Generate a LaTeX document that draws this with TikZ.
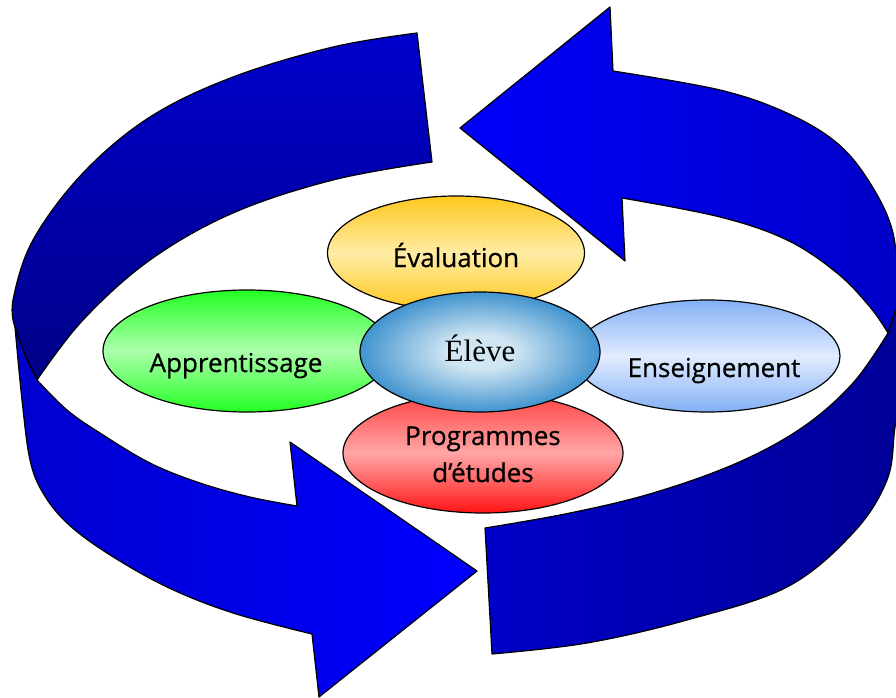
\documentclass[tikz,border=0pt]{standalone}
\usepackage{fontspec}
\setmainfont{Liberation Serif}
\newfontfamily\comicf[FakeBold=0.6]{Open Sans}
\usetikzlibrary{shapes.geometric}
\definecolor{lbTop}{RGB}{0,0,205}
\definecolor{lbBot}{RGB}{0,0,135}
\definecolor{lfLeft}{RGB}{0,0,205}
\definecolor{lfRight}{RGB}{0,0,255}
\definecolor{rbLeft}{RGB}{0,0,250}
\definecolor{rbRight}{RGB}{0,0,200}
\definecolor{rfLeft}{RGB}{0,0,200}
\definecolor{rfRight}{RGB}{0,0,150}
\definecolor{evalEdge}{RGB}{255,200,30}
\definecolor{evalMid}{RGB}{255,236,165}
\definecolor{appEdge}{RGB}{35,255,35}
\definecolor{appMid}{RGB}{172,255,172}
\definecolor{ensEdge}{RGB}{130,176,245}
\definecolor{ensMid}{RGB}{226,236,255}
\definecolor{progTop}{RGB}{255,65,65}
\definecolor{progMid}{RGB}{255,166,166}
\definecolor{progBot}{RGB}{255,20,20}
\definecolor{eleveIn}{RGB}{208,230,243}
\definecolor{eleveOut}{RGB}{0,110,190}
\pgfdeclareradialshading{eleveshade}{\pgfpoint{0bp}{0bp}}{color(0bp)=(eleveIn); color(7bp)=(eleveIn); color(33bp)=(eleveOut); color(50bp)=(eleveOut)}
\begin{document}
\begin{tikzpicture}[x=1pt,y=-1pt,
  ribbon/.style={draw=black,line width=1.2pt,line join=round},
  bubble/.style={ellipse,draw=black,line width=1.2pt,inner sep=0pt},
  lbl/.style={font=\comicf\fontsize{26}{37}\selectfont,anchor=base,inner sep=0pt,align=center},
  elbl/.style={font=\fontsize{31}{36}\selectfont,anchor=base,inner sep=0pt}]
\useasboundingbox (0,0) rectangle (896,698);
\clip (0,0) rectangle (896,698);

% left ribbon, back part
\draw[ribbon,top color=lbTop,bottom color=lbBot]
  (417,33) -- (432,162)
  -- plot[smooth,tension=0.6] coordinates {(432,162) (333,180) (233,213) (150,260) (83,320) (37,380)}
  -- plot[smooth] coordinates {(37,380) (25,355) (15,327)}
  -- plot[smooth,tension=0.6] coordinates {(15,327) (13,300) (33,240) (83,173) (150,117) (233,77) (333,47) (417,33)}
  -- cycle;
% left ribbon, front part with head
\draw[ribbon,left color=lfLeft,right color=lfRight]
  plot[smooth,tension=0.6] coordinates {(15,327) (22,400) (30,460) (43,493) (67,523) (107,553) (167,587) (233,613) (312,634)}
  -- (319,697) -- (477,571) -- (290,442) -- (297,506)
  -- plot[smooth,tension=0.6] coordinates {(297,506) (250,497) (200,483) (150,463) (100,433) (67,410) (37,380)}
  -- plot[smooth] coordinates {(37,380) (25,355) (15,327)}
  -- cycle;
% right ribbon, back part with head
\draw[ribbon,left color=rbLeft,right color=rbRight]
  (460,128) -- (610,7) -- (613,71)
  -- plot[smooth,tension=0.6] coordinates {(613,71) (720,90) (787,113) (837,143) (870,183) (893,233) (899,300)}
  -- (888,333)
  -- plot[smooth,tension=0.6] coordinates {(888,333) (870,307) (837,273) (787,240) (720,217) (622,198)}
  -- (625,261) -- cycle;
% right ribbon, front part
\draw[ribbon,left color=rfLeft,right color=rfRight]
  plot[smooth,tension=0.6] coordinates {(899,300) (903,370) (895,427) (887,480) (853,533) (787,587) (687,620) (587,643) (492,654)}
  -- (485,528)
  -- plot[smooth,tension=0.6] coordinates {(485,528) (570,513) (653,493) (737,463) (803,427) (853,383) (888,333)}
  -- cycle;

% bubbles
\node[bubble,minimum width=257,minimum height=114,top color=evalEdge,bottom color=evalEdge,middle color=evalMid] (eval) at (456,253) {};
\node[bubble,minimum width=288,minimum height=122,top color=appEdge,bottom color=appEdge,middle color=appMid] (app) at (247,351) {};
\node[bubble,minimum width=266,minimum height=112,top color=ensEdge,bottom color=ensEdge,middle color=ensMid] (ens) at (707,356) {};
\node[bubble,minimum width=280,minimum height=120,top color=progTop,bottom color=progBot,middle color=progMid] (prog) at (483,453) {};
\node[bubble,minimum width=240,minimum height=120,shade,shading=eleveshade] (eleve) at (480,352) {};

% labels
\node[lbl] (evalt) at (456,267) {Évaluation};
\node[lbl] (appt) at (236,372) {Apprentissage};
\node[lbl] (enst) at (714,377) {Enseignement};
\node[lbl] (progt) at (483,482) {Programmes\\d’études};
\node[elbl] (elevet) at (480,361) {Élève};
\end{tikzpicture}
\end{document}
